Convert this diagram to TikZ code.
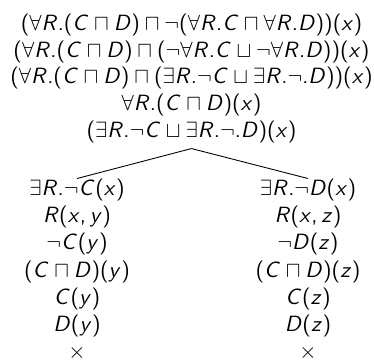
\documentclass[tikz,border=0pt]{standalone}
\DeclareSymbolFont{sfitalic}{OT1}{cmss}{m}{sl}
\SetSymbolFont{operators}{normal}{OT1}{cmss}{m}{n}
\DeclareMathSymbol{R}{\mathalpha}{sfitalic}{`R}
\DeclareMathSymbol{C}{\mathalpha}{sfitalic}{`C}
\DeclareMathSymbol{D}{\mathalpha}{sfitalic}{`D}
\DeclareMathSymbol{x}{\mathalpha}{sfitalic}{`x}
\DeclareMathSymbol{y}{\mathalpha}{sfitalic}{`y}
\DeclareMathSymbol{z}{\mathalpha}{sfitalic}{`z}
\mathcode`.="002E
\mathcode`,="602C
\begin{document}
\begin{tikzpicture}[x=0.453pt,y=-0.453pt,
  fm/.style={inner sep=0pt,text height=7.5pt,text depth=2.5pt},
  edge/.style={line width=0.4pt}]
\useasboundingbox (0,0) rectangle (374,360);
\node[fm] (t1) at (191.5,25) {$(\forall R.(C\sqcap D)\sqcap\neg(\forall R.C\sqcap\forall R.D))(x)$};
\node[fm] (t2) at (191.5,51.5) {$(\forall R.(C\sqcap D)\sqcap(\neg\forall R.C\sqcup\neg\forall R.D))(x)$};
\node[fm] (t3) at (191.5,78) {$(\forall R.(C\sqcap D)\sqcap(\exists R.\neg C\sqcup\exists R.\neg.D))(x)$};
\node[fm] (t4) at (191.5,105) {$\forall R.(C\sqcap D)(x)$};
\node[fm] (t5) at (191.5,132) {$(\exists R.\neg C\sqcup\exists R.\neg.D)(x)$};
\foreach \i/\t in {1/{\exists R.\neg C(x)},2/{R(x,y)},3/{\neg C(y)},4/{(C\sqcap D)(y)},5/{C(y)},6/{D(y)},7/{\times}}
  \node[fm] (l\i) at (77,{190+27.17*(\i-1)}) {$\t$};
\foreach \i/\t in {1/{\exists R.\neg D(x)},2/{R(x,z)},3/{\neg D(z)},4/{(C\sqcap D)(z)},5/{C(z)},6/{D(z)},7/{\times}}
  \node[fm] (r\i) at (308,{190+27.17*(\i-1)}) {$\t$};
\draw[edge] ([yshift=-2.3pt]t5.south) -- (l1.north);
\draw[edge] ([yshift=-2.3pt]t5.south) -- (r1.north);
\end{tikzpicture}
\end{document}
